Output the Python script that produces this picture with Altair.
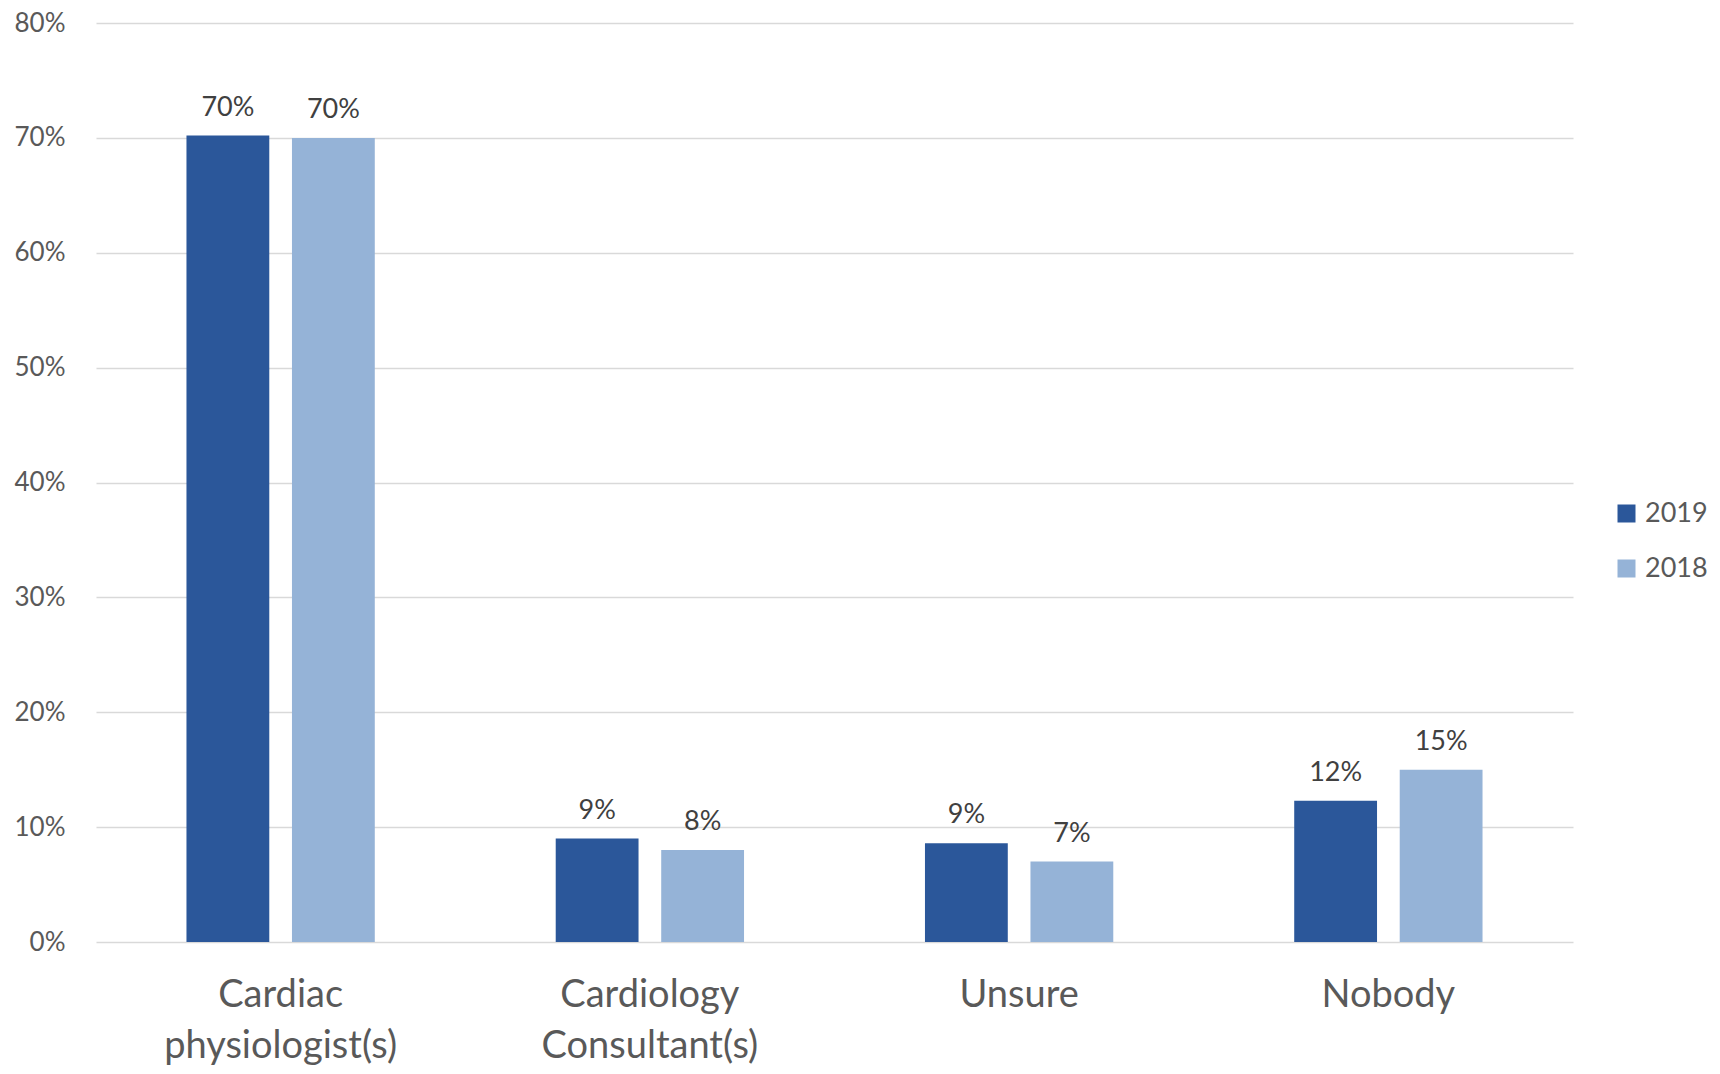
import altair as alt
import pandas as pd

categories = ["Cardiac physiologist(s)", "Cardiology Consultant(s)", "Unsure", "Nobody"]
years = ["2019", "2018"]
values_2019 = [0.702, 0.090, 0.086, 0.123]
values_2018 = [0.700, 0.080, 0.070, 0.150]
colors = ["#2B579A", "#95B3D7"]
y_ticks = [0, 0.1, 0.2, 0.3, 0.4, 0.5, 0.6, 0.7, 0.8]

rows = []
for c, v in zip(categories, values_2019):
    rows.append({"category": c, "year": "2019", "value": v})
for c, v in zip(categories, values_2018):
    rows.append({"category": c, "year": "2018", "value": v})
df = pd.DataFrame(rows)

FONT = "Lato"

base = alt.Chart(df).encode(
    x=alt.X("category:N", sort=categories, title=None,
            scale=alt.Scale(paddingInner=0.49, paddingOuter=0.245),
            axis=alt.Axis(labelAngle=0, labelExpr="split(datum.label, ' ')",
                          labelFontSize=38, labelColor="#595959", labelFont=FONT,
                          labelLineHeight=51, labelPadding=34, ticks=False,
                          domain=False, grid=False, labelBaseline="top",
                          labelLimit=0)),
    xOffset=alt.XOffset("year:N", sort=years,
                        scale=alt.Scale(paddingInner=0.215, paddingOuter=0)),
    y=alt.Y("value:Q", title=None,
            scale=alt.Scale(domain=[0, 0.8], nice=False, zero=True),
            axis=alt.Axis(values=y_ticks, format=".0%", labelFontSize=26,
                          labelColor="#595959", labelFont=FONT, labelPadding=31,
                          ticks=False, domain=False, grid=True,
                          gridColor="#D9D9D9", gridWidth=1.5)),
)

bars = base.mark_bar().encode(
    color=alt.Color("year:N", sort=years,
                    scale=alt.Scale(domain=years, range=colors),
                    legend=alt.Legend(title=None, orient="none", legendX=1517,
                                      legendY=477, symbolType="square",
                                      symbolSize=324, symbolStrokeWidth=0,
                                      labelFontSize=27, labelFont=FONT,
                                      labelColor="#595959", labelOffset=5,
                                      rowPadding=27, labelLimit=0))
)

labels = base.mark_text(baseline="alphabetic", dy=-20, fontSize=27,
                        font=FONT, color="#404040").encode(
    text=alt.Text("value:Q", format=".0%")
)

chart = alt.layer(bars, labels).properties(
    width=1477, height=919,
    autosize=alt.AutoSizeParams(type="none"),
    padding={"left": 88, "top": 15, "right": 139, "bottom": 124},
).configure(background="white").configure_view(stroke=None)

chart.save("out.html", embed_options={"renderer": "svg", "actions": False})
